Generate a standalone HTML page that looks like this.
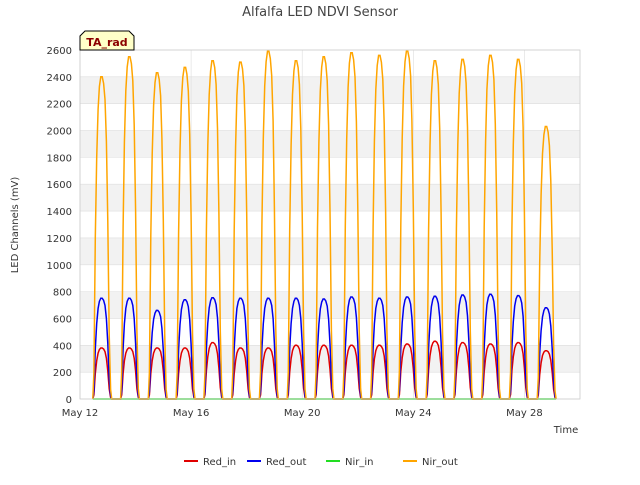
<!DOCTYPE html>
<html><head><meta charset="utf-8"><style>
body{margin:0;background:#fff;font-family:"Liberation Sans","DejaVu Sans",sans-serif}
svg text{font-family:"DejaVu Sans","Liberation Sans",sans-serif}
</style></head><body>
<svg id="chart" width="640" height="480" xmlns="http://www.w3.org/2000/svg">
<rect width="640" height="480" fill="#fff"/>
<text x="320" y="16" text-anchor="middle" font-size="13" fill="#444">Alfalfa LED NDVI Sensor</text>
<g id="bands"></g>
<g id="grid"></g>
<g id="series"></g>
<g id="axes"></g>
<text transform="translate(18,225) rotate(-90)" text-anchor="middle" font-size="10" fill="#333">LED Channels (mV)</text>
<text x="566" y="433" text-anchor="middle" font-size="10" fill="#333">Time</text>
<g>
<path d="M80,50 L80,36 L85,31 L129,31 L134,36 L134,50 Z" fill="#ffffc8" stroke="#000" stroke-width="1"/>
<text x="107" y="46" text-anchor="middle" font-size="11" font-weight="bold" fill="#8b0000">TA_rad</text>
</g>
<g id="legend"></g>
</svg>
<script>
const yTicks=[0,200,400,600,800,1000,1200,1400,1600,1800,2000,2200,2400,2600];
const xTickLabels=["May 12","May 16","May 20","May 24","May 28"];
const xTickDays=[0,4,8,12,16];
const peakDays=[0.8,1.8,2.8,3.8,4.8,5.8,6.8,7.8,8.8,9.8,10.8,11.8,12.8,13.8,14.8,15.8,16.8];
const nirOutPeaks=[2400,2550,2430,2470,2520,2510,2590,2520,2550,2580,2560,2590,2520,2530,2560,2530,2030];
const redOutPeaks=[750,750,660,740,755,750,750,750,745,760,750,760,765,775,780,770,680];
const redInPeaks=[380,380,380,380,420,380,380,400,400,400,400,410,430,420,410,420,360];
const nirInPeaks=[0,0,0,0,0,0,0,0,0,0,0,0,0,0,0,0,0];
const profileOffsets=[-0.34,-0.3,-0.25,-0.2,-0.15,-0.1,-0.05,0,0.05,0.1,0.15,0.2,0.25,0.3,0.34];
const profileFrac=[0,0.08,0.5,0.75,0.9,0.97,1,1,0.98,0.93,0.8,0.55,0.2,0.03,0];
const NS="http://www.w3.org/2000/svg";
const L=80,R=580,T=50,B=399,YMAX=2600,DMAX=18;
const xS=d=>L+d*(R-L)/DMAX, yS=v=>B-v*(B-T)/YMAX;
function mk(tag,attrs,parent){const e=document.createElementNS(NS,tag);for(const k in attrs)e.setAttribute(k,attrs[k]);parent.appendChild(e);return e;}
const bands=document.getElementById('bands'),grid=document.getElementById('grid'),axes=document.getElementById('axes'),series=document.getElementById('series');
for(let i=1;i<yTicks.length;i+=2){const r=mk('rect',{x:L,y:yS(yTicks[i+1]===undefined?yTicks[i]:yTicks[i+1]),width:R-L,height:yS(yTicks[i])-yS(yTicks[i+1]===undefined?yTicks[i]:yTicks[i+1]),fill:'#f2f2f2'},bands);

}
yTicks.forEach(v=>{const l=mk('line',{x1:L,x2:R,y1:yS(v),y2:yS(v),stroke:'#dddddd','stroke-width':0.6},grid);


const t=mk('text',{x:L-8,y:yS(v)+4,'text-anchor':'end','font-size':10,fill:'#333'},axes);t.textContent=v;

});
xTickDays.forEach((d,i)=>{const l=mk('line',{x1:xS(d),x2:xS(d),y1:T,y2:B,stroke:'#dddddd','stroke-width':0.6},grid);


const t=mk('text',{x:xS(d),y:B+17,'text-anchor':'middle','font-size':10,fill:'#333'},axes);t.textContent=xTickLabels[i];

});
const frame=mk('rect',{x:L,y:T,width:R-L,height:B-T,fill:'none',stroke:'#cccccc','stroke-width':0.8},axes);


const defs=[["Red_in","#e00000",redInPeaks],["Red_out","#0000ee",redOutPeaks],["Nir_in","#22dd22",nirInPeaks],["Nir_out","#ffa500",nirOutPeaks]];
defs.forEach(([name,col,peaks])=>{let d='';
peakDays.forEach((pd,i)=>{profileOffsets.forEach((o,j)=>{d+=(d===''?'M':'L')+xS(pd+o).toFixed(1)+','+yS(peaks[i]*profileFrac[j]).toFixed(1);});});
const p=mk('path',{d:d,fill:'none',stroke:col,'stroke-width':1.5},series);

});
const lg=document.getElementById('legend');const lx=[184,247,326,403];
defs.forEach(([name,col],i)=>{const g=mk('g',{},lg);


mk('line',{x1:lx[i],x2:lx[i]+14,y1:461,y2:461,stroke:col,'stroke-width':2},g);
const t=mk('text',{x:lx[i]+19,y:465,'font-size':10,fill:'#333'},g);t.textContent=name;});
</script>
</body></html>
